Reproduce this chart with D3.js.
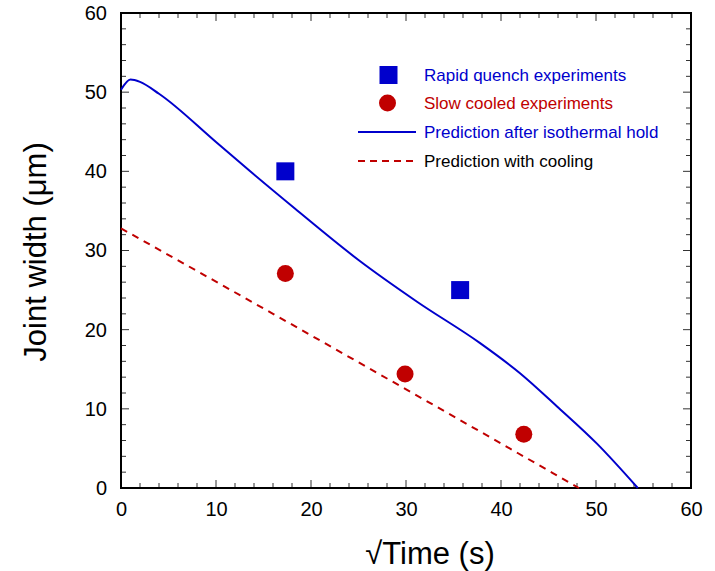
<!DOCTYPE html>
<html><head><meta charset="utf-8">
<script src="https://cdn.jsdelivr.net/npm/d3@7"></script>
<style>body{margin:0;background:#fff}svg text{font-family:Arial,"Liberation Sans",sans-serif}</style>
</head><body>
<svg id="c" width="715" height="571"></svg>
<script>
const xTicks = [0,10,20,30,40,50,60];
const yTicks = [0,10,20,30,40,50,60];
const rapidX = [17.3, 35.7];
const rapidY = [40, 25];
const slowX = [17.3, 29.9, 42.4];
const slowY = [27.1, 14.4, 6.8];
const isoX = [0, 1, 2, 4, 10, 13.6, 18.3, 25, 31.2, 37.8, 42.0, 45.9, 50.1, 54.4];
const isoY = [50.3, 51.6, 51.3, 49.8, 43.7, 40.0, 35.3, 28.8, 23.5, 18.3, 14.5, 10.3, 5.6, 0];
const coolX = [0, 16, 32, 48.2];
const coolY = [32.8, 22.0, 11.1, 0];
const legendLabels = ["Rapid quench experiments","Slow cooled experiments","Prediction after isothermal hold","Prediction with cooling"];

const blue = "#0000cc", red = "#c00000";
const svg = d3.select("#c");
const L = 121, R = 691, T = 13, B = 488;
const x = d3.scaleLinear().domain([0,60]).range([L,R]);
const y = d3.scaleLinear().domain([0,60]).range([B,T]);

const minor = d3.range(0,61,2);
const g = svg.append("g");
minor.forEach(v => {
  const len = v % 10 === 0 ? 8 : 5;
  g.append("line").attr("x1",x(v)).attr("x2",x(v)).attr("y1",B).attr("y2",B-len).attr("stroke","#333");
  g.append("line").attr("x1",x(v)).attr("x2",x(v)).attr("y1",T).attr("y2",T+len).attr("stroke","#333");
  g.append("line").attr("y1",y(v)).attr("y2",y(v)).attr("x1",L).attr("x2",L+len).attr("stroke","#333");
  g.append("line").attr("y1",y(v)).attr("y2",y(v)).attr("x1",R).attr("x2",R-len).attr("stroke","#333");
});

const xa = svg.append("g").attr("transform",`translate(0,${B})`)
  .call(d3.axisBottom(x).tickValues(xTicks).tickSize(0).tickPadding(14));
const ya = svg.append("g").attr("transform",`translate(${L},0)`)
  .call(d3.axisLeft(y).tickValues(yTicks).tickSize(0).tickPadding(14));
[xa,ya].forEach(a=>{a.select(".domain").remove();a.selectAll("text").attr("font-size",20).attr("fill","#000").style("font-family","Arial, 'Liberation Sans', sans-serif");});

svg.append("rect").attr("x",L).attr("y",T).attr("width",R-L).attr("height",B-T)
  .attr("fill","none").attr("stroke","#000").attr("stroke-width",2);

const line = d3.line().x(d=>x(d[0])).y(d=>y(d[1])).curve(d3.curveMonotoneX);
svg.append("path").datum(isoX.map((v,i)=>[v,isoY[i]])).attr("d",line)
  .attr("fill","none").attr("stroke",blue).attr("stroke-width",2);
svg.append("path").datum(coolX.map((v,i)=>[v,coolY[i]])).attr("d",line)
  .attr("fill","none").attr("stroke",red).attr("stroke-width",2).attr("stroke-dasharray","7,6");

const s = 18;
svg.selectAll(".sq").data(rapidX.map((v,i)=>[v,rapidY[i]])).join("rect")
  .attr("x",d=>x(d[0])-s/2).attr("y",d=>y(d[1])-s/2).attr("width",s).attr("height",s).attr("fill",blue);
svg.selectAll(".ci").data(slowX.map((v,i)=>[v,slowY[i]])).join("circle")
  .attr("cx",d=>x(d[0])).attr("cy",d=>y(d[1])).attr("r",8.5).attr("fill",red);

const ly = [75,103,132,161];
const lc = [blue, red, blue, "#000"];
svg.append("rect").attr("x",388.5-s/2).attr("y",ly[0]-s/2).attr("width",s).attr("height",s).attr("fill",blue);
svg.append("circle").attr("cx",387.5).attr("cy",ly[1]).attr("r",8.5).attr("fill",red);
svg.append("line").attr("x1",358).attr("x2",416).attr("y1",ly[2]).attr("y2",ly[2]).attr("stroke",blue).attr("stroke-width",2);
svg.append("line").attr("x1",358).attr("x2",416).attr("y1",ly[3]).attr("y2",ly[3]).attr("stroke",red).attr("stroke-width",2).attr("stroke-dasharray","7,5");
legendLabels.forEach((t,i)=>{
  svg.append("text").attr("x",424).attr("y",ly[i]).attr("dy","0.35em").attr("font-size",17).attr("fill",lc[i]).text(t);
});

svg.append("text").attr("x",430).attr("y",564).attr("text-anchor","middle").attr("font-size",31).text("√Time (s)");
svg.append("text").attr("transform",`translate(46,252) rotate(-90)`).attr("text-anchor","middle").attr("font-size",31).text("Joint width (μm)");
</script>
</body></html>
